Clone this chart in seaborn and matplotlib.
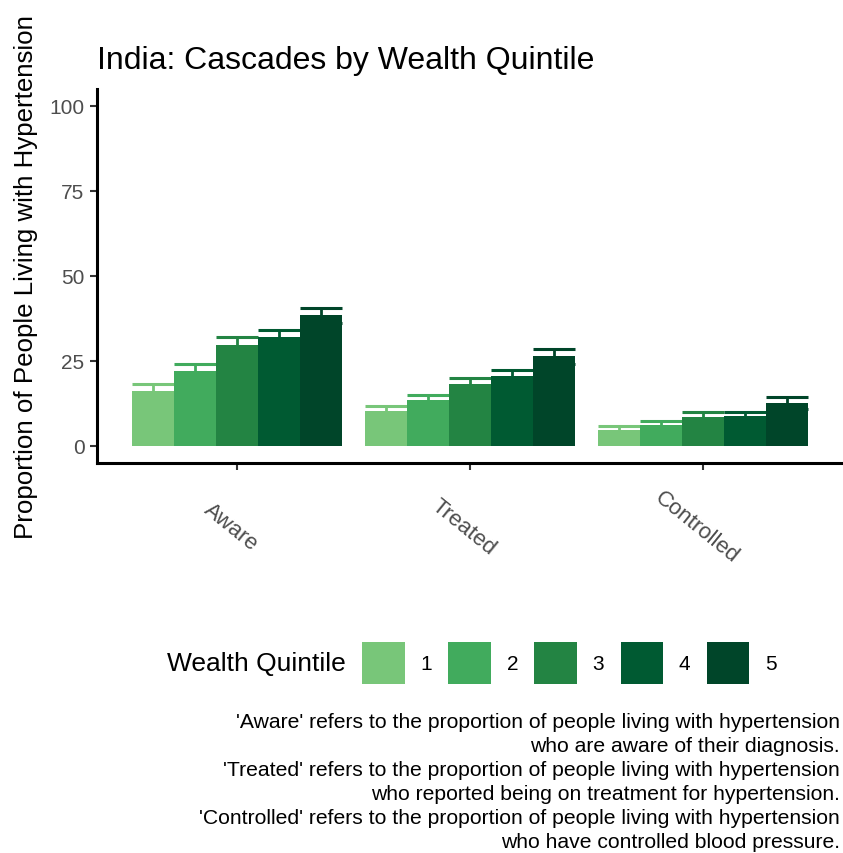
import pandas as pd
import seaborn as sns
import matplotlib.pyplot as plt
from matplotlib.transforms import ScaledTranslation

# values (percent), upper error bar ends
stages = ['Aware', 'Treated', 'Controlled']
quintiles = ['1', '2', '3', '4', '5']
aware = [16.2, 22.1, 29.7, 32.0, 38.5]
aware_hi = [18.2, 24.0, 32.0, 34.2, 40.7]
treated = [10.4, 13.6, 18.3, 20.6, 26.4]
treated_hi = [11.9, 15.0, 20.0, 22.3, 28.6]
controlled = [4.8, 6.3, 8.5, 8.9, 12.7]
controlled_hi = [5.8, 7.2, 10.1, 10.1, 14.5]
colors = ['#78C679', '#41AB5D', '#238443', '#005A32', '#004529']

caption = ("'Aware' refers to the proportion of people living with hypertension\n"
           "who are aware of their diagnosis.\n"
           "'Treated' refers to the proportion of people living with hypertension\n"
           "who reported being on treatment for hypertension.\n"
           "'Controlled' refers to the proportion of people living with hypertension\n"
           "who have controlled blood pressure.")

vals = {'Aware': aware, 'Treated': treated, 'Controlled': controlled}
his = {'Aware': aware_hi, 'Treated': treated_hi, 'Controlled': controlled_hi}
rows = []
for s in stages:
    for q, v, h in zip(quintiles, vals[s], his[s]):
        rows.append({'Stage': s, 'Quintile': q, 'Value': v, 'Hi': h})
df = pd.DataFrame(rows)

sns.set_style('white')
plt.rcParams['font.family'] = ['Liberation Sans', 'DejaVu Sans']
plt.rcParams['text.color'] = 'black'

fig = plt.figure(figsize=(8.43, 8.54), dpi=100)
ax = fig.add_axes([0.115, 0.4567, 0.885, 0.438])

sns.barplot(data=df, x='Stage', y='Value', hue='Quintile', order=stages,
            hue_order=quintiles, palette=colors, width=0.9, errorbar=None,
            saturation=1, linewidth=0, ax=ax, zorder=3)

# error bars drawn beneath the bars, coloured like their bars
for cont, q, c in zip(ax.containers, quintiles, colors):
    sub = df[df['Quintile'] == q].set_index('Stage').loc[stages]
    for bar, v, h in zip(cont, sub['Value'], sub['Hi']):
        lo = 2 * v - h
        x0 = bar.get_x()
        w = bar.get_width()
        ax.vlines(x0 + w / 2, lo, h, color=c, lw=2, zorder=2)
        ax.hlines([lo, h], x0, x0 + w, color=c, lw=2.2, zorder=2)

handles, labels = ax.get_legend_handles_labels()
ax.get_legend().remove()

ax.set_xlim(-0.6, 2.6)
ax.set_ylim(-5, 105)
ax.set_yticks([0, 25, 50, 75, 100])
ax.set_xlabel('')
ax.set_ylabel('Proportion of People Living with Hypertension', fontsize=18.6,
              labelpad=8, color='black')
ax.set_title('India: Cascades by Wealth Quintile', fontsize=23, loc='left', pad=15,
             color='black')
ax.tick_params(axis='y', labelsize=15, labelcolor='#4D4D4D', color='#333333',
               length=5, width=1.5, left=True, pad=4)
ax.tick_params(axis='x', labelsize=16, labelcolor='#4D4D4D', color='#333333',
               length=5, width=1.5, bottom=True, pad=41)
shift = ScaledTranslation(-6 / 100, 0, fig.dpi_scale_trans)
for lab in ax.get_xticklabels():
    lab.set_rotation(-39)
    lab.set_ha('center')
    lab.set_va('center')
    lab.set_transform(lab.get_transform() + shift)
sns.despine(ax=ax)
for side in ['left', 'bottom']:
    ax.spines[side].set_color('black')
    ax.spines[side].set_linewidth(2.2)

fig.text(167 / 843, 1 - 664 / 854, 'Wealth Quintile', fontsize=19, va='center', ha='left')
fig.legend(handles, labels, loc='center left', bbox_to_anchor=(362 / 843, 1 - 664 / 854),
           ncol=5, frameon=False, fontsize=15, handlelength=2.05, handleheight=2.7,
           handletextpad=0.75, columnspacing=0.78, borderpad=0, borderaxespad=0)

fig.text(840 / 843, 1 - 713 / 854, caption, fontsize=15.2, ha='right', va='top',
         linespacing=1.34)

fig.savefig('out.png', dpi=100)
